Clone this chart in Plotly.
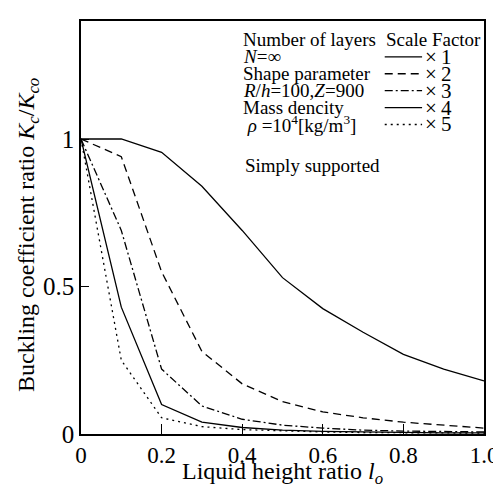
import plotly.graph_objects as go

# Data
lo = [0.0, 0.1, 0.2, 0.3, 0.4, 0.5, 0.6, 0.7, 0.8, 0.9, 1.0]
k_x1 = [1.0, 1.0, 0.955, 0.84, 0.69, 0.53, 0.425, 0.345, 0.27, 0.22, 0.18]
k_x2 = [1.0, 0.94, 0.55, 0.28, 0.17, 0.11, 0.075, 0.055, 0.04, 0.03, 0.02]
k_x3 = [1.0, 0.69, 0.22, 0.095, 0.05, 0.03, 0.02, 0.013, 0.01, 0.008, 0.007]
k_x4 = [1.0, 0.43, 0.10, 0.04, 0.022, 0.013, 0.009, 0.007, 0.005, 0.004, 0.004]
k_x5 = [1.0, 0.25, 0.055, 0.025, 0.015, 0.01, 0.007, 0.005, 0.004, 0.003, 0.003]

scale_labels = ["×\u20091", "×\u20092", "×\u20093", "×\u20094", "×\u20095"]
dashes = ["solid", "8px,5px", "8px,3px,2px,3px", "solid", "2px,4px"]
values = [k_x1, k_x2, k_x3, k_x4, k_x5]

x_ticks = [0, 0.2, 0.4, 0.6, 0.8, 1.0]
x_ticktext = ["0", "0.2", "0.4", "0.6", "0.8", "1.0"]
y_ticks = [0, 0.5, 1]
y_ticktext = ["0", "0.5", "1"]

legend_left = ["Number of layers", "<i>N</i>=∞", "Shape parameter",
               "<i>R</i>/<i>h</i>=100,<i>Z</i>=900", "Mass dencity",
               " <i>ρ</i> =10<sup>4</sup>[kg/m<sup>3</sup>]"]
note = "Simply supported"

FONT = "Liberation Serif, Times New Roman, serif"
BLACK = "black"

fig = go.Figure()
for name, ys, dash in zip(scale_labels, values, dashes):
    fig.add_trace(go.Scatter(x=lo, y=ys, mode="lines", name=name,
                             line=dict(color=BLACK, width=1.3, dash=dash),
                             showlegend=False))

# custom legend block (paper coords; plot area is 410 x 415 px)
def py(pix):
    return (426 - pix) / 415.0

def px(pix):
    return (pix - 73) / 410.0

row_pix = [30, 47, 64, 81, 98, 115]
txt_font = dict(family=FONT, size=19, color=BLACK)
for t, yy in zip(legend_left, row_pix):
    fig.add_annotation(x=px(236), y=py(yy), xref="paper", yref="paper", text=t, showarrow=False,
                       xanchor="left", yanchor="middle", font=txt_font)
fig.add_annotation(x=px(238), y=py(156), xref="paper", yref="paper", text=note, showarrow=False,
                   xanchor="left", yanchor="middle", font=txt_font)
fig.add_annotation(x=px(381), y=py(row_pix[0]), xref="paper", yref="paper", text="Scale Factor",
                   showarrow=False, xanchor="left", yanchor="middle", font=txt_font)
for name, dash, yy in zip(scale_labels, dashes, row_pix[1:]):
    fig.add_shape(type="line", xref="paper", yref="paper", x0=px(382), x1=px(420), y0=py(yy), y1=py(yy),
                  line=dict(color=BLACK, width=1.3, dash=dash))
    fig.add_annotation(x=px(421), y=py(yy), xref="paper", yref="paper", text=name, showarrow=False,
                       xanchor="left", yanchor="middle", font=dict(family=FONT, size=21, color=BLACK))

# axis titles as annotations for exact placement
fig.add_annotation(x=0.5, y=py(465), xref="paper", yref="paper",
                   text="Liquid height ratio <i>l<sub>o</sub></i>", showarrow=False,
                   xanchor="center", yanchor="middle", font=dict(family=FONT, size=24, color=BLACK))
fig.add_annotation(x=px(19), y=py(226), xref="paper", yref="paper", textangle=-90,
                   text="Buckling coefficient ratio <i>K<sub>c</sub></i>/<i>K<sub>co</sub></i>",
                   showarrow=False, xanchor="center", yanchor="middle",
                   font=dict(family=FONT, size=24, color=BLACK))

fig.update_xaxes(range=[0, 1.0], tickvals=x_ticks, ticktext=x_ticktext, ticks="inside", ticklen=10,
                 tickwidth=1, tickcolor=BLACK, showgrid=False, zeroline=False,
                 showline=True, linecolor=BLACK, linewidth=1.5, mirror=True,
                 tickfont=dict(family=FONT, size=23, color=BLACK))
fig.update_yaxes(range=[0, 1.4], tickvals=y_ticks, ticktext=y_ticktext, ticks="inside", ticklen=8,
                 tickwidth=1, tickcolor=BLACK, showgrid=False, zeroline=False,
                 showline=True, linecolor=BLACK, linewidth=1.5, mirror=True,
                 tickfont=dict(family=FONT, size=25, color=BLACK))

fig.update_layout(width=501, height=484, margin=dict(l=73, r=18, t=11, b=58),
                  plot_bgcolor="white", paper_bgcolor="white", showlegend=False)

fig.write_html("out.html")
